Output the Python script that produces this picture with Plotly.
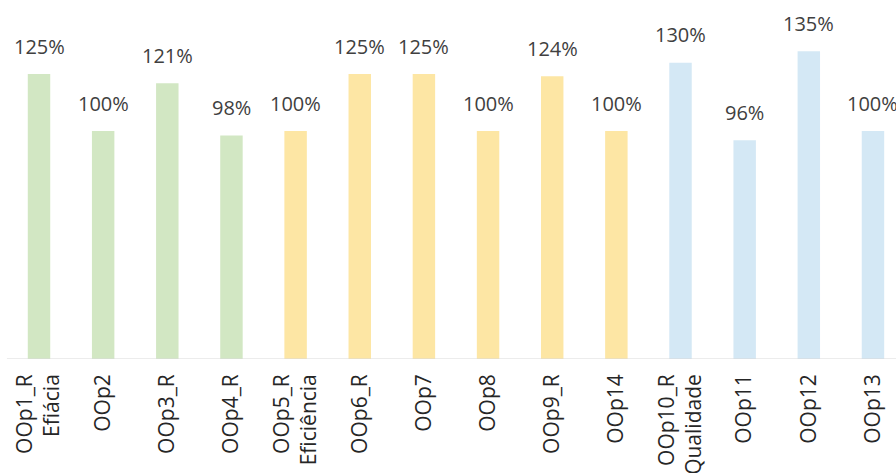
import plotly.graph_objects as go

categories = ["OOp1_R<br>Efiácia", "OOp2", "OOp3_R", "OOp4_R", "OOp5_R<br>Eficiência",
              "OOp6_R", "OOp7", "OOp8", "OOp9_R", "OOp14",
              "OOp10_R<br>Qualidade", "OOp11", "OOp12", "OOp13"]
values = [125, 100, 121, 98, 100, 125, 125, 100, 124, 100, 130, 96, 135, 100]
value_labels = ["125%", "100%", "121%", "98%", "100%", "125%", "125%", "100%",
                "124%", "100%", "130%", "96%", "135%", "100%"]
groups = ["Eficácia"] * 4 + ["Eficiência"] * 6 + ["Qualidade"] * 4
group_colors = {"Eficácia": "#d2e7c3", "Eficiência": "#fde6a4", "Qualidade": "#d4e8f5"}

x_idx = list(range(len(categories)))
colors = [group_colors[g] for g in groups]

fig = go.Figure()
fig.add_trace(go.Bar(
    x=x_idx, y=values, marker=dict(color=colors, line=dict(width=0)),
    width=0.35, showlegend=False, hoverinfo="skip",
))

for xi, v, lab in zip(x_idx, values, value_labels):
    fig.add_annotation(x=xi, y=v, text=lab, showarrow=False, yanchor="middle",
                       yshift=28, font=dict(family="Open Sans", size=20, color="#404040"))

fig.add_shape(type="line", xref="x", yref="y", x0=-0.5, x1=13.5, y0=0, y1=0,
              line=dict(color="#d9d9d9", width=1))

fig.update_layout(
    width=896, height=473,
    margin=dict(l=0, r=0, t=0, b=114, autoexpand=False),
    paper_bgcolor="white", plot_bgcolor="white",
    font=dict(family="Open Sans", color="#262626"),
    xaxis=dict(
        tickmode="array", tickvals=x_idx, ticktext=categories,
        range=[-0.608, 13.359], tickangle=-90, showgrid=False, zeroline=False,
        showline=False, ticks="", tickfont=dict(family="Open Sans", size=21, color="#262626"),
        ticklabelstandoff=10, automargin=False,
    ),
    yaxis=dict(range=[0, 157.5], visible=False, showgrid=False, zeroline=False,
               automargin=False),
)

fig.write_html("out.html")
